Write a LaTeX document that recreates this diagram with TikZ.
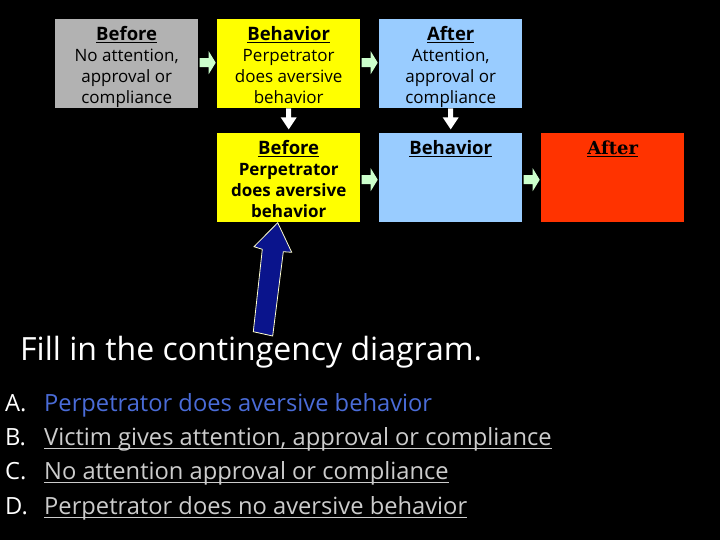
\documentclass[tikz,border=0pt]{standalone}
\usepackage{fontspec}
\setmainfont{Open Sans}
\newfontfamily\serifhead{DejaVu Serif}
\usetikzlibrary{calc}
\definecolor{boxgrey}{HTML}{B2B2B2}
\definecolor{boxyellow}{HTML}{FFFF00}
\definecolor{boxblue}{HTML}{99CCFF}
\definecolor{boxred}{HTML}{FF3300}
\definecolor{arrgreen}{HTML}{CCFFCC}
\definecolor{arrblue}{HTML}{0A148C}
\definecolor{paleyellow}{HTML}{FFFFCC}
\definecolor{ablue}{HTML}{4A6CD8}
\definecolor{lgrey}{HTML}{CCCCCC}
\newcommand{\hdr}[1]{\underline{\textbf{\fontsize{18.5}{21}\selectfont #1}}}
\newcommand{\bxt}[2]{\parbox[t][85pt][t]{143pt}{\centering\rule{0pt}{19pt}\hdr{#1}\\#2}}
\begin{document}
\begin{tikzpicture}[x=1pt,y=-1pt,
  box/.style={inner sep=0pt, minimum width=143pt, minimum height=89pt, anchor=north west,
    font=\fontsize{17}{21}\selectfont, align=center},
  listtxt/.style={anchor=base west, inner sep=0pt, font=\fontsize{23.7}{26}\selectfont},
  rarr/.pic={\fill[arrgreen] (-8,-4.5) -- (1,-4.5) -- (1,-11.5) -- (8,0) -- (1,11.5) -- (1,4.5) -- (-8,4.5) -- cycle;},
  darr/.pic={\fill[white] (-2.5,0) -- (2.5,0) -- (2.5,9) -- (8,9) -- (0,21) -- (-8,9) -- (-2.5,9) -- cycle;}
]
\fill[black] (0,0) rectangle (720,540);
\useasboundingbox (0,0) rectangle (720,540);

% row 1
\node[box, fill=boxgrey] (b1) at (55,19) {\bxt{Before}{No attention,\\ approval or\\ compliance}};
\node[box, fill=boxyellow] (b2) at (217,19) {\bxt{Behavior}{Perpetrator\\ does aversive\\ behavior}};
\node[box, fill=boxblue] (b3) at (379,19) {\bxt{After}{Attention,\\ approval or\\ compliance}};
% row 2
\node[box, fill=boxyellow, font=\fontsize{17}{21}\selectfont\bfseries] (b4) at (217,133) {\bxt{Before}{Perpetrator\\ does aversive\\ behavior}};
\node[box, fill=boxblue] (b5) at (379,133) {\parbox[t][85pt][t]{143pt}{\centering\rule{0pt}{19pt}\hdr{Behavior}}};
\node[box, fill=boxred] (b6) at (541,133) {\parbox[t][85pt][t]{143pt}{\centering\rule{0pt}{19pt}\underline{\serifhead\bfseries\fontsize{18}{21}\selectfont After}}};

% green right arrows
\pic at ($(b1.east)!0.5!(b2.west)+(0,-1)$) {rarr};
\pic at ($(b2.east)!0.5!(b3.west)+(0,-1)$) {rarr};
\pic at ($(b4.east)!0.5!(b5.west)+(0,2)$) {rarr};
\pic at ($(b5.east)!0.5!(b6.west)+(0,2)$) {rarr};
% white down arrows
\pic at (b2.south) {darr};
\pic at (b3.south) {darr};

% blue up arrow
\filldraw[fill=arrblue, draw=paleyellow, line width=0.8pt]
  (277.7,222.7) -- (291.7,252.3) -- (283.3,251.7) -- (272.7,336) -- (253.3,331.7)
  -- (262.3,249.3) -- (254,246.7) -- cycle;

% title
\node[anchor=base west, inner sep=0pt, text=white, font=\fontsize{32}{34}\selectfont] (title) at (20,360) {Fill in the contingency diagram.};

% list
\node[listtxt, text=white] (la) at (5,411) {A.};
\node[listtxt, text=white] (lb) at (5,445) {B.};
\node[listtxt, text=white] (lc) at (5,479) {C.};
\node[listtxt, text=white] (ld) at (5,514) {D.};
\node[listtxt, text=ablue] (ta) at (44,411) {Perpetrator does aversive behavior};
\node[listtxt, text=lgrey] (tb) at (44,445) {Victim gives attention, approval or compliance};
\node[listtxt, text=lgrey] (tc) at (44,479) {No attention approval or compliance};
\node[listtxt, text=lgrey] (td) at (44,514) {Perpetrator does no aversive behavior};
\foreach \t in {tb,tc,td}
  \draw[lgrey, line width=1.2pt] ($(\t.base west)+(0,3.5)$) -- ($(\t.base east)+(0,3.5)$);
\end{tikzpicture}
\end{document}
